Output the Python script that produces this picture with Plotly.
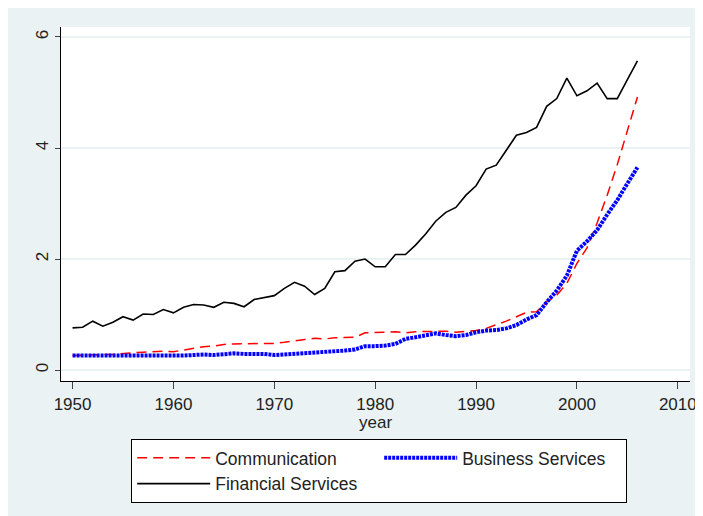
import plotly.graph_objs as go

#%% data (annual, 1950-2006)
years = list(range(1950, 2007))

communication = [0.26, 0.27, 0.27, 0.28, 0.28, 0.30, 0.31, 0.32, 0.33, 0.34,
                 0.33, 0.36, 0.39, 0.42, 0.43, 0.46, 0.47, 0.47, 0.47, 0.47,
                 0.48, 0.50, 0.53, 0.55, 0.57, 0.56, 0.58, 0.58, 0.59, 0.67,
                 0.67, 0.68, 0.69, 0.67, 0.69, 0.69, 0.70, 0.70, 0.68, 0.69,
                 0.71, 0.75, 0.81, 0.88, 0.96, 1.04, 1.05, 1.23, 1.35, 1.56,
                 1.92, 2.20, 2.65, 3.15, 3.70, 4.30, 4.92]

business = [0.26, 0.26, 0.26, 0.26, 0.25, 0.25, 0.25, 0.25, 0.25, 0.25,
            0.25, 0.26, 0.27, 0.28, 0.27, 0.29, 0.30, 0.29, 0.29, 0.29,
            0.27, 0.28, 0.30, 0.31, 0.32, 0.33, 0.34, 0.35, 0.37, 0.43,
            0.43, 0.44, 0.47, 0.56, 0.59, 0.62, 0.66, 0.63, 0.61, 0.63,
            0.68, 0.71, 0.72, 0.75, 0.81, 0.91, 0.99, 1.22, 1.43, 1.70,
            2.15, 2.32, 2.52, 2.80, 3.06, 3.36, 3.65]

financial = [0.76, 0.77, 0.88, 0.79, 0.86, 0.96, 0.90, 1.01, 1.00, 1.09,
             1.03, 1.13, 1.18, 1.17, 1.13, 1.22, 1.20, 1.14, 1.27, 1.30,
             1.34, 1.47, 1.58, 1.51, 1.36, 1.47, 1.77, 1.79, 1.96, 2.00,
             1.86, 1.86, 2.08, 2.08, 2.25, 2.45, 2.68, 2.84, 2.93, 3.15,
             3.32, 3.62, 3.69, 3.96, 4.23, 4.28, 4.37, 4.75, 4.89, 5.26,
             4.94, 5.03, 5.17, 4.89, 4.89, 5.23, 5.57]

x_ticks = [1950, 1960, 1970, 1980, 1990, 2000, 2010]
y_ticks = [0, 2, 4, 6]

#%% colours / fonts (stata s2color look)
bg_col = '#EAF2F3'
font_fam = 'Arial, Liberation Sans, sans-serif'

fig = go.Figure()
fig.add_trace(go.Scatter(x=years, y=communication, mode='lines', name='Communication',
                         line=dict(color='red', width=1.5, dash='10px,6px')))
fig.add_trace(go.Scatter(x=years, y=business, mode='lines', name='Business Services',
                         line=dict(color='blue', width=4, dash='3px,1px')))
fig.add_trace(go.Scatter(x=years, y=financial, mode='lines', name='Financial Services',
                         line=dict(color='black', width=1.6)))

#x title as an annotation so it sits close under the tick labels
fig.add_annotation(text='year', xref='paper', yref='paper', x=0.5, y=-0.117,
                   xanchor='center', yanchor='middle', showarrow=False,
                   font=dict(size=17, color='#222222'))

#page body has an 8px margin, so the figure is 8px smaller than the window
fig.update_layout(
    width=695, height=508,
    margin=dict(l=53, r=6, t=19, b=135),
    paper_bgcolor=bg_col, plot_bgcolor='white',
    font=dict(family=font_fam, size=17, color='#222222'),
    showlegend=True,
    legend=dict(orientation='h', x=0.1116, xanchor='left', y=-0.1638, yanchor='top',
                bgcolor='white', bordercolor='black', borderwidth=1,
                font=dict(size=17.5, color='#222222'),
                itemwidth=73, entrywidth=159, tracegroupgap=0),
)
fig.update_xaxes(range=[1948.853, 2011.21], tickvals=x_ticks, ticks='outside', ticklen=7,
                 tickcolor='#444444', showgrid=False, zeroline=False,
                 showline=True, linecolor='black', linewidth=1.2,
                 ticklabeloverflow='allow')
fig.update_yaxes(range=[-0.198, 6.18], tickvals=y_ticks, ticks='outside', ticklen=5,
                 tickcolor='#444444', tickangle=-90, showgrid=True, gridcolor=bg_col,
                 gridwidth=1.5, zeroline=False, showline=True, linecolor='black',
                 linewidth=1.2)

fig.write_html("out.html")
